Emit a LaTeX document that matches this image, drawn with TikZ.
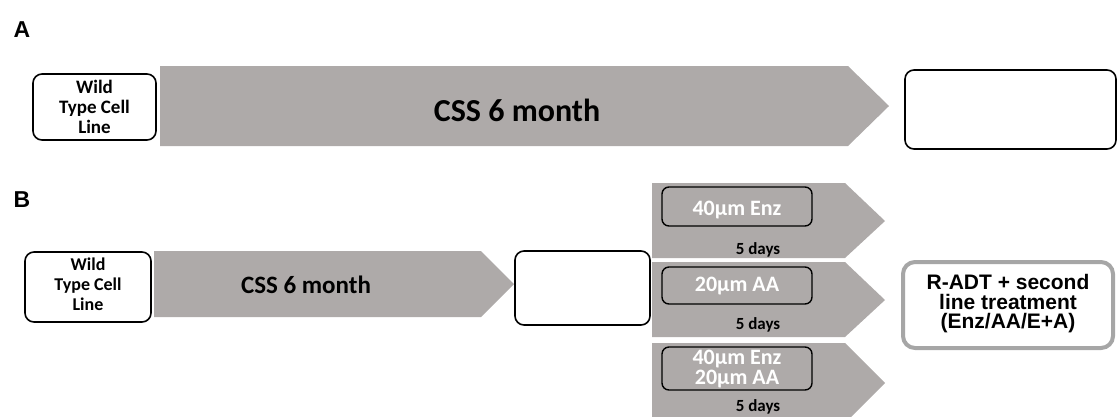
\documentclass[tikz,border=0pt]{standalone}
\usepackage{fontspec}
\setmainfont{Carlito}
\newfontfamily\arialfont{Liberation Sans}
\definecolor{arrowgray}{HTML}{AEAAA9}
\definecolor{framegray}{HTML}{A6A6A6}
\tikzset{
  chevron/.style={fill=arrowgray, draw=none},
  roundbox/.style={draw=black, line width=1.6pt, rounded corners=9pt, fill=white},
  innerbox/.style={draw=black, line width=1.4pt, rounded corners=7pt},
  panellabel/.style={font=\arialfont\bfseries\fontsize{23}{25}\selectfont, inner sep=0pt},
  wildtext/.style={align=center, inner sep=0pt, font=\bfseries\fontsize{18}{20}\selectfont},
  csstext/.style={inner sep=0pt},
  drugtext/.style={align=center, inner sep=0pt, text=white, font=\bfseries\fontsize{22}{20.5}\selectfont},
  daytext/.style={inner sep=0pt, font=\bfseries\fontsize{17}{18}\selectfont},
}
\begin{document}
\begin{tikzpicture}[x=1pt,y=-1pt]
\useasboundingbox (0,0) rectangle (1118,416);
\clip (0,0) rectangle (1118,416);
% panel labels
\node[panellabel] (labA) at (22,30) {A};
\node[panellabel] (labB) at (22,200) {B};
% ---------- panel A ----------
\fill[chevron] (160,66) -- (848,66) -- (889,106) -- (848,146) -- (160,146) -- cycle;
\draw[roundbox] (33,74) rectangle (156,140);
\node[wildtext, font=\bfseries\fontsize{19}{20}\selectfont] (wildA) at (94.5,107) {Wild\\Type Cell\\Line};
\node[csstext, font=\bfseries\fontsize{32}{34}\selectfont] (cssA) at (517,110) {CSS 6 month};
\draw[roundbox] (905,70) rectangle (1116,149);
% ---------- panel B ----------
\fill[chevron] (154,251) -- (481,251) -- (514,284) -- (481,317) -- (154,317) -- cycle;
\draw[roundbox] (25,252) rectangle (151,322);
\node[wildtext] (wildB) at (88,284) {Wild\\Type Cell\\Line};
\node[csstext, font=\bfseries\fontsize{25}{28}\selectfont] (cssB) at (306,285) {CSS 6 month};
\draw[roundbox] (515,251) rectangle (650,325);
% three treatment arrows
\fill[chevron] (652,183) -- (845,183) -- (885,221) -- (845,258) -- (652,258) -- cycle;
\fill[chevron] (652,262) -- (845,262) -- (885,300) -- (845,337) -- (652,337) -- cycle;
\fill[chevron] (652,343) -- (845,343) -- (885,383) -- (845,423) -- (652,423) -- cycle;
\draw[innerbox] (662,187) rectangle (812,226);
\draw[innerbox] (662,267) rectangle (812,304);
\draw[innerbox] (662,347) rectangle (812,390);
\node[drugtext] (enz1) at (737,210) {40µm Enz};
\node[daytext] (days1) at (758,250) {5 days};
\node[drugtext] (aa2) at (737,286) {20µm AA};
\node[daytext] (days2) at (758,325) {5 days};
\node[drugtext] (combo3) at (737,369) {40µm Enz\\20µm AA};
\node[daytext] (days3) at (758,407) {5 days};
% R-ADT box
\draw[draw=framegray, line width=4pt, rounded corners=12pt, fill=white] (903,262) rectangle (1113,348);
\node[align=center, inner sep=0pt, font=\arialfont\bfseries\fontsize{21}{19.5}\selectfont] (radt) at (1008,304) {R-ADT + second\\line treatment\\(Enz/AA/E+A)};
\end{tikzpicture}
\end{document}
